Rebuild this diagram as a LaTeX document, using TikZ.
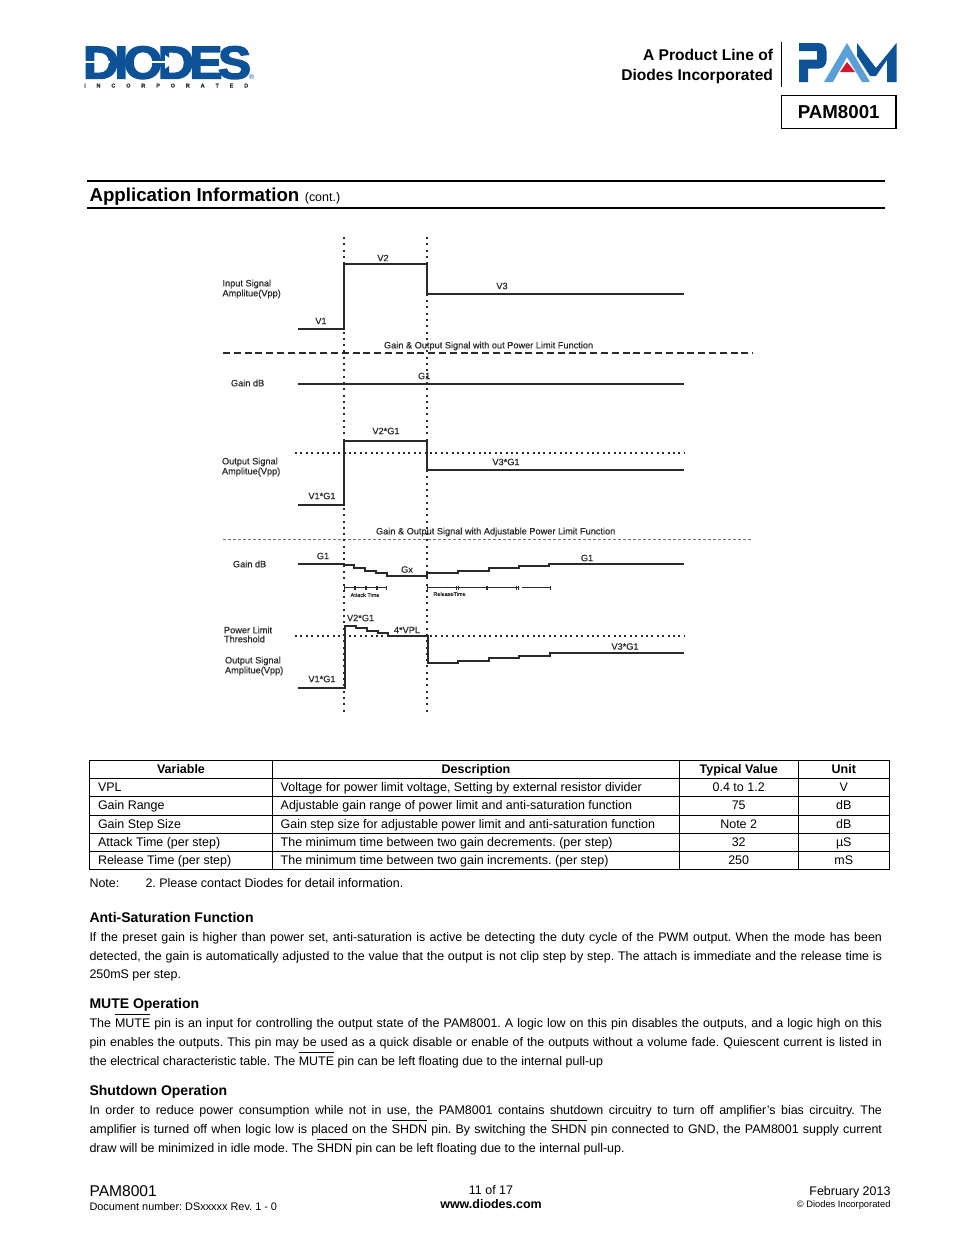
\documentclass[tikz,border=0pt]{standalone}
\usepackage{fontspec}
\setmainfont{Liberation Sans}
\newfontfamily\logofont[FakeBold=3.2,LetterSpace=-9]{Liberation Sans Bold}
\newfontfamily\incfont[FakeBold=1]{Liberation Sans Bold}
\newfontfamily\labfont[FakeBold=0.35]{Liberation Sans}
\definecolor{logoblue}{HTML}{0D5296}
\definecolor{pamlight}{HTML}{5A9FD6}
\definecolor{pamred}{HTML}{D9142B}
\definecolor{sig}{HTML}{2A2A2A}
\newcommand\fs[1]{\fontsize{#1bp}{#1bp}\selectfont}
\newbox\ovbox
\newcommand\ovl[1]{\setbox\ovbox\hbox{#1}\rlap{\rule[12.3bp]{\wd\ovbox}{1bp}}\box\ovbox}
\tikzset{
 txt/.style={inner sep=0pt,outer sep=0pt,anchor=base west,font=\fs{12.47}\frenchspacing},
 txtc/.style={inner sep=0pt,outer sep=0pt,anchor=base,font=\fs{12.47}\frenchspacing},
 txtr/.style={inner sep=0pt,outer sep=0pt,anchor=base east,font=\fs{12.47}\frenchspacing},
 head/.style={txt,font=\fs{14}\bfseries},
 lab/.style={inner sep=0pt,outer sep=0pt,anchor=west,font=\fs{9.2}\labfont,text=sig},
 labc/.style={inner sep=0pt,outer sep=0pt,anchor=center,font=\fs{9.2}\labfont,text=sig},
 tiny/.style={labc,font=\fs{5.5}\labfont},
 trace/.style={draw=sig,line width=1.5bp,line join=miter},
 vdot/.style={draw=sig,line width=1.6bp,dash pattern=on 2bp off 4.3bp},
 hdot/.style={draw=sig,line width=1.5bp,dash pattern=on 2bp off 3.4bp},
 hdash/.style={draw=sig,line width=1.5bp,dash pattern=on 7bp off 3.8bp},
 hthin/.style={draw=black!55,line width=1bp,dash pattern=on 2.6bp off 2.4bp},
 tick/.style={draw=sig,line width=1bp},
 tbl/.style={draw=black,line width=1bp},
 hrule/.style={draw=black,line width=1.5bp}
}
\newcommand\jl[3]{\node[txt] (#1) at (89.5,#2) {\makebox[792.5bp][s]{#3}};}
\begin{document}
\begin{tikzpicture}[x=1bp,y=-1bp]
\useasboundingbox[fill=white] (0,0) rectangle (954,1235);

% DIODES logo
\node[inner sep=0pt,outer sep=0pt,anchor=base west,text=logoblue,xscale=1.08,font=\fs{46}\logofont] (logo) at (83,78.5) {DIODES};
\fill[white] (84,60.6) rectangle (110,63);
\fill[white] (134,60.6) rectangle (167,63);
\fill[white] (165,55) -- (175,61.8) -- (165,68.6) -- cycle;
\node[inner sep=0pt,anchor=base west,text=black!80,font=\fs{5.5}\incfont] (inc) at (84,87.5) {\makebox[164bp][s]{I\hfill N\hfill C\hfill O\hfill R\hfill P\hfill O\hfill R\hfill A\hfill T\hfill E\hfill D}};
\node[inner sep=0pt,text=logoblue,font=\fs{7}] (reg) at (251.8,77.3) {®};

% header right
\node[txtr,font=\fs{15.6}\bfseries] (pl1) at (773,60) {A Product Line of};
\node[txtr,font=\fs{15.6}\bfseries] (pl2) at (773,80) {Diodes Incorporated};
\draw[black,line width=1bp] (781,42) -- (781,87);
\fill[logoblue] (799,43) -- (819,43) to[out=0,in=90] (826.5,51) -- (826.5,60.5) to[out=-90,in=0] (819,68.5) -- (808,68.5) -- (808,82) -- (799,82) -- (799,59.5) -- (817,59.5) -- (817,51) -- (799,51) -- cycle;
\fill[logoblue] (857,43) -- (876,68) -- (896.5,43) -- (896.5,82) -- (887,82) -- (887,60) -- (876,76) -- (870,76) -- (857,56) -- cycle;
\fill[pamlight] (824,82) -- (847,43) -- (870,82) -- (862,82) -- (847,57) -- (833,82) -- cycle;
\fill[pamred] (847,62) -- (855,72) -- (840,72) -- cycle;
\node[draw=black,line width=1.5bp,minimum width=114.5bp,minimum height=33bp,inner sep=0pt,font=\fs{18.7}\bfseries] (partbox) at (838.7,112) {PAM8001};

% section title
\draw[hrule] (87,181) -- (885,181);
\draw[hrule] (87,208) -- (885,208);
\node[txt] (title) at (89.5,201) {{\fs{18.7}\bfseries Application Information}\hspace{5.5bp}{\fs{12.47}(cont.)}};

% dividers and grid lines
\draw[hdash] (223,353) -- (753,353);
\draw[hdot] (295,453) -- (684,453);
\draw[hthin] (223,539.5) -- (753,539.5);
\draw[hdot] (295,636) -- (684,636);

% input signal
\draw[trace] (298,329) -- (344,329) -- (344,264) -- (427,264) -- (427,294) -- (684,294);
% gain
\draw[trace] (298,384) -- (684,384);
% output
\draw[trace] (298,505) -- (344,505) -- (344,441) -- (427,441) -- (427,470) -- (684,470);
% gain limited
\draw[trace] (298,564) -- (344,564) -- (344,565) -- (354,565) -- (354,568) -- (365,568) -- (365,571) -- (376,571) -- (376,573) -- (387,573) -- (387,576) -- (427,576) -- (427,573) -- (458,573) -- (458,571) -- (489,571) -- (489,568) -- (519,568) -- (519,566) -- (549,566) -- (549,564) -- (684,564);
% output limited
\draw[trace] (298,688) -- (345,688) -- (345,626) -- (356,626) -- (356,628) -- (367,628) -- (367,631) -- (378,631) -- (378,633) -- (388,633) -- (388,636) -- (428,636) -- (428,663) -- (458,663) -- (458,661) -- (489,661) -- (489,658) -- (519,658) -- (519,656) -- (550,656) -- (550,653) -- (684,653);

% time markers
\draw[tick] (344,587.5) -- (386.5,587.5);
\foreach \tx in {344.3,354,355.3,365,366.3,376,377.3,386.3} {\draw[tick] (\tx,585.5) -- (\tx,589.5);}
\draw[tick] (427,587.5) -- (518,587.5);
\draw[tick] (522,587.5) -- (550.5,587.5);
\foreach \tx in {427.3,456.8,458.2,486,487.3,516.5,518,550.3} {\draw[tick] (\tx,585.5) -- (\tx,589.5);}

% vertical markers
\draw[vdot] (344,237) -- (344,712);
\draw[vdot] (427,237) -- (427,712);

% diagram labels
\node[lab] (a1) at (222.5,284) {Input Signal};
\node[lab] (a2) at (222.5,294) {Amplitue(Vpp)};
\node[labc] (a3) at (383,258) {V2};
\node[labc] (a4) at (321,321) {V1};
\node[labc] (a5) at (502,286) {V3};
\node[lab] (a6) at (384,346) {Gain \& Output Signal with out Power Limit Function};
\node[lab] (a7) at (231,383) {Gain dB};
\node[lab] (a8) at (418,376) {G1};
\node[labc] (a9) at (386,431) {V2*G1};
\node[labc] (a10) at (506,462) {V3*G1};
\node[lab] (a11) at (222,462) {Output Signal};
\node[lab] (a12) at (222,472) {Amplitue(Vpp)};
\node[labc] (a13) at (322,496) {V1*G1};
\node[lab] (a14) at (376,532) {Gain \& Output Signal with Adjustable Power Limit Function};
\node[lab] (a15) at (233,564) {Gain dB};
\node[labc] (a16) at (323,556) {G1};
\node[labc] (a17) at (407,569.5) {Gx};
\node[labc] (a18) at (587,558) {G1};
\node[tiny] (a19) at (365,595) {Attack Time};
\node[tiny] (a20) at (449.5,594) {ReleaseTime};
\node[lab] (a21) at (347,618) {V2*G1};
\node[labc] (a22) at (407,630) {4*VPL};
\node[lab] (a23) at (224,630) {Power Limit};
\node[lab] (a24) at (224,639) {Threshold};
\node[lab] (a25) at (225,661) {Output Signal};
\node[lab] (a26) at (225,671) {Amplitue(Vpp)};
\node[labc] (a27) at (322,679) {V1*G1};
\node[labc] (a28) at (625,646.5) {V3*G1};

% table
\draw[tbl] (89.3,760.7) rectangle (889.3,869.3);
\draw[tbl] (272.7,760.7) -- (272.7,869.3);
\draw[tbl] (679.3,760.7) -- (679.3,869.3);
\draw[tbl] (798.3,760.7) -- (798.3,869.3);
\foreach \ty in {778.3,796.7,815,833.3,851.7} {\draw[tbl] (89.3,\ty) -- (889.3,\ty);}

\node[txtc,font=\fs{12.47}\bfseries] (h1) at (181,773.5) {Variable};
\node[txtc,font=\fs{12.47}\bfseries] (h2) at (476,773.5) {Description};
\node[txtc,font=\fs{12.47}\bfseries] (h3) at (738.7,773.5) {Typical Value};
\node[txtc,font=\fs{12.47}\bfseries] (h4) at (843.8,773.5) {Unit};

\node[txt] (c11) at (98,791.5) {VPL};
\node[txt] (c12) at (280.7,791.5) {Voltage for power limit voltage, Setting by external resistor divider};
\node[txtc] (c13) at (738.7,791.5) {0.4 to 1.2};
\node[txtc] (c14) at (843.8,791.5) {V};
\node[txt] (c21) at (98,809.5) {Gain Range};
\node[txt] (c22) at (280.7,809.5) {Adjustable gain range of power limit and anti-saturation function};
\node[txtc] (c23) at (738.7,809.5) {75};
\node[txtc] (c24) at (843.8,809.5) {dB};
\node[txt] (c31) at (98,828) {Gain Step Size};
\node[txt] (c32) at (280.7,828) {Gain step size for adjustable power limit and anti-saturation function};
\node[txtc] (c33) at (738.7,828) {Note 2};
\node[txtc] (c34) at (843.8,828) {dB};
\node[txt] (c41) at (98,846.5) {Attack Time (per step)};
\node[txt] (c42) at (280.7,846.5) {The minimum time between two gain decrements. (per step)};
\node[txtc] (c43) at (738.7,846.5) {32};
\node[txtc] (c44) at (843.8,846.5) {µS};
\node[txt] (c51) at (98,864.5) {Release Time (per step)};
\node[txt] (c52) at (280.7,864.5) {The minimum time between two gain increments. (per step)};
\node[txtc] (c53) at (738.7,864.5) {250};
\node[txtc] (c54) at (843.8,864.5) {mS};

\node[txt] (n1) at (89.5,887.5) {Note:};
\node[txt] (n2) at (145.5,887.5) {2. Please contact Diodes for detail information.};

% body
\node[head] (s1) at (89.5,922) {Anti-Saturation Function};
\jl{l1}{941.5}{If the preset gain is higher than power set, anti-saturation is active be detecting the duty cycle of the PWM output. When the mode has been}
\jl{l2}{960}{detected, the gain is automatically adjusted to the value that the output is not clip step by step. The attach is immediate and the release time is}
\node[txt] (l3) at (89.5,978.5) {250mS per step.};

\node[head] (s2) at (89.5,1008) {MUTE Operation};
\jl{l4}{1027.5}{The \ovl{MUTE} pin is an input for controlling the output state of the PAM8001. A logic low on this pin disables the outputs, and a logic high on this}
\jl{l5}{1046}{pin enables the outputs. This pin may be used as a quick disable or enable of the outputs without a volume fade. Quiescent current is listed in}
\node[txt] (l6) at (89.5,1065) {the electrical characteristic table. The \ovl{MUTE} pin can be left floating due to the internal pull-up};

\node[head] (s3) at (89.5,1095) {Shutdown Operation};
\jl{l7}{1114}{In order to reduce power consumption while not in use, the PAM8001 contains shutdown circuitry to turn off amplifier’s bias circuitry. The}
\jl{l8}{1133}{amplifier is turned off when logic low is placed on the \ovl{SHDN} pin. By switching the \ovl{SHDN} pin connected to GND, the PAM8001 supply current}
\node[txt] (l9) at (89.5,1152) {draw will be minimized in idle mode. The \ovl{SHDN} pin can be left floating due to the internal pull-up.};

% footer
\node[txt,font=\fs{15.6}] (f1) at (89.5,1196) {PAM8001};
\node[txt,font=\fs{10.9}\frenchspacing] (f2) at (89.5,1210) {Document number: DSxxxxx Rev. 1 - 0};
\node[txtc] (f3) at (491,1194.5) {11 of 17};
\node[txtc,font=\fs{12.47}\bfseries] (f4) at (491,1208.5) {www.diodes.com};
\node[txtr] (f5) at (890.5,1195) {February 2013};
\node[txtr,font=\fs{9.35}] (f6) at (890.5,1207) {© Diodes Incorporated};
\end{tikzpicture}
\end{document}
